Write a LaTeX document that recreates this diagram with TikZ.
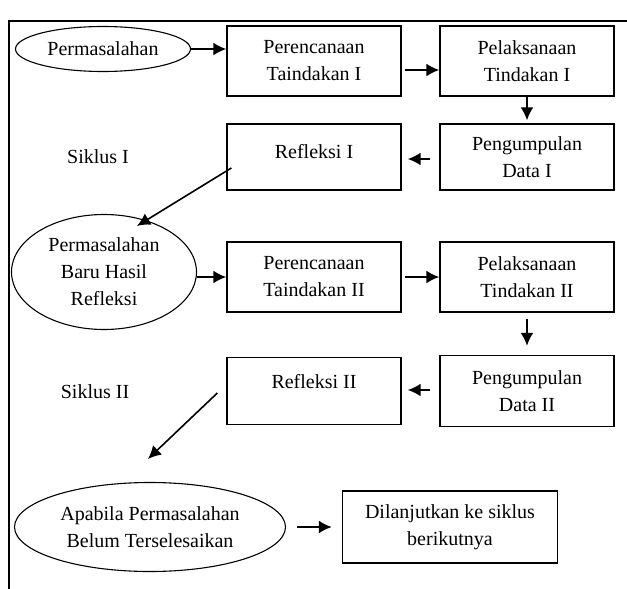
\documentclass[tikz,border=0pt]{standalone}
\usepackage{fontspec}
\setmainfont{Liberation Serif}
\usetikzlibrary{shapes,arrows.meta,positioning,calc}

\begin{document}
\begin{tikzpicture}[x=1pt,y=-1pt,>={Latex[length=13pt,width=13pt]},
  kotak/.style={draw,line width=1.3pt,minimum width=174pt,minimum height=70pt,align=center,inner sep=2pt,font=\fontsize{20}{27}\selectfont},
  elips/.style={draw,ellipse,line width=1.1pt,align=center,inner sep=0pt,font=\fontsize{20}{27}\selectfont},
  teks/.style={font=\fontsize{20}{27}\selectfont},
  panah/.style={->,line width=2.2pt},
  miring/.style={->,line width=1.6pt}]
  \useasboundingbox (0,0) rectangle (627,589);
  % bingkai
  \draw[line width=1.2pt] (9,589) -- (9,21) -- (627,21);

  % siklus I
  \node [elips,minimum width=175pt,minimum height=45pt] (masalah) at (103,49) {Permasalahan};
  \node [kotak] (rencana1) at (314,61) {Perencanaan\\Taindakan I};
  \node [kotak] (laksana1) at (527,61) {Pelaksanaan\\Tindakan I};
  \node [kotak,minimum height=66pt] (kumpul1) at (527,157) {Pengumpulan\\Data I};
  \node [kotak,minimum height=66pt,text depth=12pt] (refleksi1) at (314,157) {Refleksi I};
  \node [teks] (siklus1) at (98,157) {Siklus I};

  % siklus II
  \node [elips,minimum width=185pt,minimum height=115pt] (masalah2) at (104,272) {Permasalahan\\Baru Hasil\\Refleksi};
  \node [kotak] (rencana2) at (314,277) {Perencanaan\\Taindakan II};
  \node [kotak] (laksana2) at (527,277) {Pelaksanaan\\Tindakan II};
  \node [kotak,minimum height=71pt] (kumpul2) at (527,391) {Pengumpulan\\Data II};
  \node [kotak,minimum height=67pt,text depth=20pt] (refleksi2) at (314,391) {Refleksi II};
  \node [teks] (siklus2) at (95,392) {Siklus II};

  % lanjut
  \node [elips,minimum width=271pt,minimum height=89pt] (belum) at (150,527) {Apabila Permasalahan\\Belum Terselesaikan};
  \node [kotak,minimum width=215pt,minimum height=72pt] (lanjut) at (450,527) {Dilanjutkan ke siklus\\berikutnya};

  \coordinate (ujung1) at ($(masalah2.north)+(33,12)$);
  \coordinate (ujung2) at ($(belum.north)+(-2,-23)$);

  \draw [panah] (masalah.east) -- (masalah.east -| rencana1.west);
  \draw [panah] ([xshift=3pt,yshift=-9pt]rencana1.east) -- ([yshift=-9pt]laksana1.west);
  \draw [panah,shorten >=3pt] (laksana1.south) -- (kumpul1.north);
  \draw [panah] ([xshift=-9pt,yshift=-2pt]kumpul1.west) -- ([xshift=6pt,yshift=-2pt]refleksi1.east);
  \draw [miring] ([xshift=5pt,yshift=-11pt]refleksi1.west) -- (ujung1);
  \draw [panah] (rencana2.west -| masalah2.east) -- (rencana2.west);
  \draw [panah,shorten <=3pt] (rencana2.east) -- (laksana2.west);
  \draw [panah,shorten <=6pt,shorten >=9pt] (laksana2.south) -- (kumpul2.north);
  \draw [panah] ([xshift=-9pt,yshift=1pt]kumpul2.west) -- ([xshift=6pt,yshift=1pt]refleksi2.east);
  \draw [miring] ([xshift=-9pt,yshift=-2pt]refleksi2.west) -- (ujung2);
  \draw [panah,shorten <=11pt,shorten >=10pt] (belum.east) -- (belum.east -| lanjut.west);
\end{tikzpicture}
\end{document}
